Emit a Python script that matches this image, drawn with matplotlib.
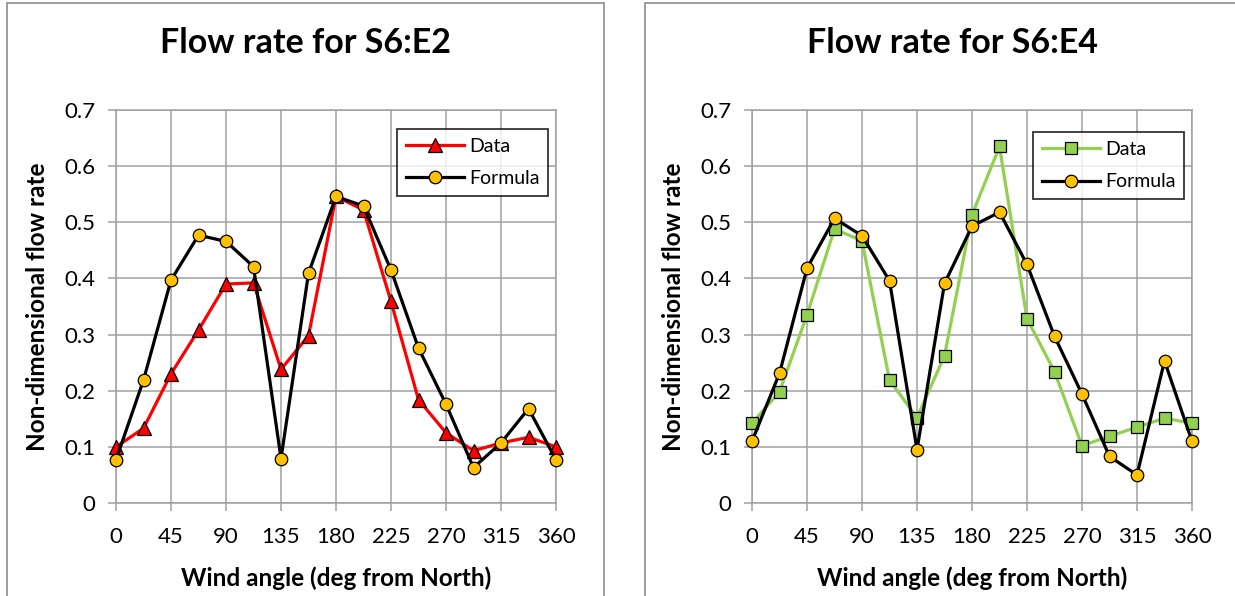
"""
Flow rate vs wind angle for two openings (S6:E2 and S6:E4), data vs formula.
"""

import matplotlib
matplotlib.use("Agg")
import matplotlib.pyplot as plt
from matplotlib.patches import Rectangle

plt.rcParams["font.family"] = ["Lato", "DejaVu Sans"]

# Wind angles (deg from North), every 22.5 deg
angles = [0, 22.5, 45, 67.5, 90, 112.5, 135, 157.5, 180,
          202.5, 225, 247.5, 270, 292.5, 315, 337.5, 360]
x_ticks = [0, 45, 90, 135, 180, 225, 270, 315, 360]
y_ticks = [0, 0.1, 0.2, 0.3, 0.4, 0.5, 0.6, 0.7]

# S6:E2
e2_data = [0.100, 0.133, 0.230, 0.308, 0.390, 0.392, 0.238, 0.298, 0.546,
           0.522, 0.359, 0.184, 0.125, 0.093, 0.107, 0.117, 0.100]
e2_formula = [0.077, 0.219, 0.397, 0.477, 0.466, 0.421, 0.079, 0.409, 0.546,
              0.529, 0.415, 0.276, 0.176, 0.063, 0.107, 0.168, 0.077]

# S6:E4
e4_data = [0.142, 0.198, 0.335, 0.488, 0.467, 0.219, 0.152, 0.262, 0.513,
           0.635, 0.328, 0.234, 0.102, 0.119, 0.135, 0.151, 0.142]
e4_formula = [0.110, 0.231, 0.418, 0.507, 0.476, 0.396, 0.095, 0.391, 0.493,
              0.518, 0.425, 0.297, 0.194, 0.083, 0.050, 0.253, 0.110]

GRID = "#a0a0a0"
BORDER = "#8c8c8c"
W, H = 1235, 596


def px_rect(x0, y0, x1, y1):
    """Pixel box (top-left origin) -> figure fraction [l, b, w, h]."""
    return [x0 / W, 1 - y1 / H, (x1 - x0) / W, (y1 - y0) / H]


def draw_panel(fig, box, panel, title, data, formula, data_style, leg_anchor):
    # chart-area border
    bx = px_rect(*panel)
    fig.patches.append(Rectangle((bx[0], bx[1]), bx[2], bx[3],
                                 transform=fig.transFigure, fill=False,
                                 edgecolor=BORDER, linewidth=1.2))
    fig.text(bx[0] + bx[2] / 2, 1 - 43 / H, title, ha="center", va="center",
             fontsize=24.5, fontweight="bold")

    ax = fig.add_axes(px_rect(*box))
    ax.plot(angles, data, label="Data", linewidth=2.3, clip_on=False,
            markeredgecolor="black", markeredgewidth=0.9, zorder=3, **data_style)
    ax.plot(angles, formula, label="Formula", color="black", linewidth=2.3,
            marker="o", markersize=9, markerfacecolor="#ffc000",
            markeredgecolor="black", markeredgewidth=0.9, clip_on=False, zorder=4)

    ax.set_xlim(0, 360)
    ax.set_ylim(0, 0.7)
    ax.set_xticks(x_ticks)
    ax.set_yticks(y_ticks)
    ax.set_yticklabels(["0" if v == 0 else f"{v:.1f}" for v in y_ticks])
    ax.grid(True, color=GRID, linewidth=1.1)
    ax.set_axisbelow(True)
    for s in ax.spines.values():
        s.set_color(GRID)
        s.set_linewidth(1.1)
    ax.tick_params(direction="out", length=6, width=1.1, color=GRID,
                   labelsize=16)
    ax.tick_params(axis="x", pad=11)
    ax.tick_params(axis="y", pad=9)
    ax.set_xlabel("Wind angle (deg from North)", fontsize=17.5,
                  fontweight="bold", labelpad=14)
    ax.set_ylabel("Non-dimensional flow rate", fontsize=17.5,
                  fontweight="bold", labelpad=11)

    leg = ax.legend(loc="upper right", bbox_to_anchor=leg_anchor,
                    fontsize=14, frameon=True, fancybox=False,
                    handlelength=3.0, borderpad=0.45, labelspacing=0.8,
                    handletextpad=0.25, borderaxespad=0)
    leg.get_frame().set_edgecolor("black")
    leg.get_frame().set_linewidth(1.3)
    return ax


fig = plt.figure(figsize=(W / 100, H / 100), dpi=100)

draw_panel(fig, (116, 110, 556, 503), (7, 3, 604, 620),
           "Flow rate for S6:E2", e2_data, e2_formula,
           dict(color="#ff0000", marker="^", markersize=10,
                markerfacecolor="#ff0000"),
           (0.982, 0.952))
draw_panel(fig, (752, 110, 1192, 503), (645, 3, 1260, 620),
           "Flow rate for S6:E4", e4_data, e4_formula,
           dict(color="#92d050", marker="s", markersize=8,
                markerfacecolor="#92d050"),
           (0.982, 0.944))

fig.savefig("out.png", dpi=100)
